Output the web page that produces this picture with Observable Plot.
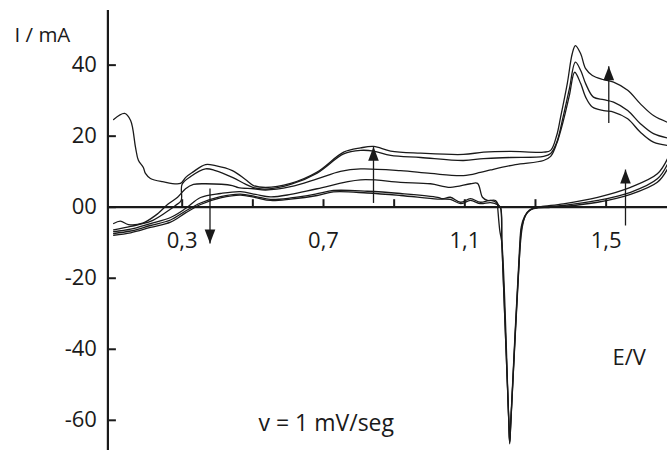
<!DOCTYPE html>
<html>
<head>
<meta charset="utf-8">
<script src="https://cdn.jsdelivr.net/npm/d3@7"></script>
<script src="https://cdn.jsdelivr.net/npm/@observablehq/plot@0.6"></script>
<style>
  html, body { margin: 0; padding: 0; background: #fff; }
  #chart svg { display: block; }
</style>
</head>
<body>
<div id="chart"></div>
<script>
// ---- Data: potential E (V), current I (mA) ----
// forward (anodic) scans
const f1 = [[0.106,24.7],[0.137,26.4],[0.154,24.4],[0.168,16.8],[0.176,13.2],[0.190,11.2],[0.196,9.5],[0.210,8.1],[0.244,7.2],[0.295,6.7],[0.310,8.4],[0.329,9.8],[0.366,12.0],[0.394,11.7],[0.442,10.3],[0.479,7.8],[0.502,6.1],[0.536,5.55],[0.607,6.7],[0.682,9.9],[0.757,15.5],[0.805,16.7],[0.842,17.1],[0.890,15.8],[0.975,15.2],[1.096,14.85],[1.153,15.5],[1.229,15.7],[1.323,15.5],[1.343,16.0],[1.360,20.2],[1.371,25.3],[1.390,34.8],[1.404,43.2],[1.413,45.5],[1.428,43.2],[1.442,39.0],[1.461,37.1],[1.493,35.9],[1.521,35.2],[1.561,32.9],[1.597,29.1],[1.634,25.8],[1.674,23.9]];
const f2 = [[0.106,-6.4],[0.154,-5.4],[0.210,-4.0],[0.253,-1.5],[0.281,0.48],[0.297,1.9],[0.2995,6.4],[0.324,8.65],[0.366,10.8],[0.394,10.3],[0.442,8.4],[0.479,6.5],[0.502,5.5],[0.536,5.1],[0.607,6.4],[0.682,9.6],[0.757,15.0],[0.805,16.0],[0.842,15.8],[0.890,14.6],[0.975,14.0],[1.096,13.15],[1.153,13.7],[1.229,14.0],[1.323,14.3],[1.343,15.1],[1.360,18.2],[1.379,25.8],[1.396,33.4],[1.413,40.85],[1.428,38.5],[1.442,34.8],[1.464,31.0],[1.493,30.3],[1.521,29.6],[1.561,27.2],[1.597,23.5],[1.634,20.7],[1.674,19.5]];
const f3 = [[0.106,-4.6],[0.125,-3.9],[0.148,-4.9],[0.188,-4.5],[0.2245,-2.3],[0.261,0.96],[0.287,2.8],[0.3095,5.2],[0.332,6.4],[0.366,6.6],[0.442,6.1],[0.459,5.5],[0.502,5.2],[0.536,4.85],[0.607,5.8],[0.682,8.0],[0.748,10.1],[0.805,10.8],[0.918,10.3],[1.003,9.5],[1.096,8.9],[1.144,9.8],[1.173,10.5],[1.243,12.0],[1.323,13.15],[1.343,14.3],[1.360,17.9],[1.379,24.4],[1.396,31.5],[1.411,38.0],[1.428,34.8],[1.442,31.0],[1.461,28.2],[1.493,27.2],[1.521,26.8],[1.561,24.9],[1.597,21.1],[1.634,18.3],[1.674,17.4]];
// reverse (cathodic) scans
const r1 = [[1.674,13.7],[1.645,9.4],[1.569,5.6],[1.476,2.8],[1.379,0.96],[1.314,0.11],[1.294,-0.37],[1.277,-1.5],[1.266,-3.75],[1.259,-7.1],[1.256,-11.35],[1.2305,-60],[1.227,-66.6],[1.2244,-60],[1.205,-10.2],[1.201,-0.08],[1.196,0.48],[1.187,1.9],[1.164,1.9],[1.150,2.8],[1.136,6.7],[1.116,6.6],[1.059,5.6],[1.003,6.6],[0.918,7.0],[0.805,7.7],[0.682,5.2],[0.607,3.6],[0.550,2.9],[0.508,3.6],[0.465,4.4],[0.4085,3.86],[0.352,2.73],[0.3095,-0.37],[0.267,-2.9],[0.210,-4.6],[0.154,-6.2],[0.106,-6.9]];
const r2 = [[1.674,12.2],[1.645,8.0],[1.569,4.2],[1.476,1.9],[1.379,0.48],[1.328,0.06],[1.300,-0.08],[1.283,-0.8],[1.269,-2.6],[1.260,-5.4],[1.255,-11.35],[1.2302,-60],[1.227,-66.0],[1.2243,-60],[1.205,-10.2],[1.199,-6.6],[1.193,-0.08],[1.192,0.96],[1.173,1.9],[1.144,1.4],[1.116,2.4],[1.088,1.4],[1.059,2.8],[1.037,2.4],[1.023,2.8],[0.918,3.86],[0.824,4.5],[0.728,4.7],[0.682,3.8],[0.607,2.6],[0.550,2.2],[0.508,3.0],[0.465,3.7],[0.4085,3.0],[0.352,1.18],[0.3095,-1.07],[0.267,-3.6],[0.210,-5.15],[0.154,-6.7],[0.106,-7.4]];
const r3 = [[1.674,10.8],[1.645,7.0],[1.569,3.6],[1.476,1.4],[1.379,0.2],[1.337,-0.08],[1.308,-0.2],[1.288,-0.65],[1.273,-2.06],[1.264,-4.9],[1.258,-9.4],[1.2305,-60],[1.227,-66.3],[1.2245,-60],[1.205,-10.2],[1.201,-0.08],[1.194,0.62],[1.173,1.3],[1.144,1.0],[1.116,1.9],[1.088,1.0],[1.059,2.2],[1.023,2.3],[0.918,3.3],[0.824,4.0],[0.728,4.3],[0.682,3.3],[0.607,2.3],[0.550,1.9],[0.508,2.7],[0.465,3.4],[0.4085,2.6],[0.352,0.76],[0.3095,-1.6],[0.267,-4.2],[0.210,-5.7],[0.154,-7.2],[0.106,-7.9]];

// arrows (E, from I, to I)
const arrowE = [0.3787, 0.8415, 1.5075, 1.5548];
const arrowFrom = [5.27, 1.2, 23.7, -5.15];
const arrowTo = [-10.23, 17.0, 39.7, 10.6];

// ticks / labels
const xTickValues = [0.3, 0.5, 0.7, 0.9, 1.1, 1.3, 1.5];
const xLabelValues = [0.3, 0.7, 1.1, 1.5];
const xLabelText = ["0,3", "0,7", "1,1", "1,5"];
const yTickValues = [40, 20, 0, -20, -40, -60];
const yLabelText = ["40", "20", "00", "-20", "-40", "-60"];

// axis lines position
const axisE = 0.0897, axisEEnd = 1.69, yAxisTop = 55.4, yAxisBottom = -68.5;

// annotations
const notes = [
  {E: -0.1747, I: 48.5, t: "I / mA", size: 20.5},
  {E: 1.5179, I: -42.5, t: "E/V", size: 22},
  {E: 0.516, I: -60.9, t: "v = 1 mV/seg", size: 23}
];

// ---- build tables ----
const series = {f1, f2, f3, r1, r2, r3};
const rows = [];
for (const [name, pts] of Object.entries(series)) for (const [E, I] of pts) rows.push({E, I, s: name});
const arrows = arrowE.map((E, i) => ({E, from: arrowFrom[i], to: arrowTo[i]}));

// custom symbols
const upHead = {draw(c) { c.moveTo(0, 0); c.lineTo(-5.3, 14); c.lineTo(5.3, 14); c.closePath(); }};
const downHead = {draw(c) { c.moveTo(0, 0); c.lineTo(-5.3, -14); c.lineTo(5.3, -14); c.closePath(); }};
const xTickSym = {draw(c) { c.moveTo(0, 0); c.lineTo(0, -8); }};
const yTickSym = {draw(c) { c.moveTo(0, 0); c.lineTo(8, 0); }};

const ink = "#1a1a1a";
const font = "Open Sans";

const chart = Plot.plot({
  width: 667,
  height: 450,
  margin: 0,
  style: {background: "#fff", fontFamily: font},
  x: {domain: [-0.2143, 1.6737], axis: null},
  y: {domain: [-68.5, 58.2], axis: null},
  marks: [
    Plot.ruleY([0], {x1: axisE, x2: axisEEnd, stroke: ink, strokeWidth: 2.2}),
    Plot.ruleX([axisE], {y1: yAxisBottom, y2: yAxisTop, stroke: ink, strokeWidth: 2.2}),
    Plot.dot(xTickValues, {x: d => d, y: 0, symbol: xTickSym, stroke: ink, strokeWidth: 2, fill: "none"}),
    Plot.dot(yTickValues, {x: axisE, y: d => d, symbol: yTickSym, stroke: ink, strokeWidth: 2, fill: "none"}),
    Plot.text(xLabelValues, {x: d => d, y: 0, text: (d, i) => xLabelText[i], dy: 34, fontSize: 22, fill: ink, fontFamily: font}),
    Plot.text(yTickValues, {x: axisE, y: d => d, text: (d, i) => yLabelText[i], textAnchor: "end", dx: -11, fontSize: 22, fill: ink, fontFamily: font}),
    Plot.line(rows, {x: "E", y: "I", z: "s", curve: "catmull-rom", stroke: ink, strokeWidth: 1.3}),
    Plot.link(arrows, {x1: "E", x2: "E", y1: "from", y2: "to", stroke: ink, strokeWidth: 1.3}),
    Plot.dot(arrows.filter(d => d.to > d.from), {x: "E", y: "to", symbol: upHead, fill: ink, stroke: "none"}),
    Plot.dot(arrows.filter(d => d.to < d.from), {x: "E", y: "to", symbol: downHead, fill: ink, stroke: "none"}),
    ...notes.map(n => Plot.text([n], {x: "E", y: "I", text: "t", textAnchor: "start", fontSize: n.size, fill: ink, fontFamily: font}))
  ]
});
document.getElementById("chart").appendChild(chart);
</script>
</body>
</html>
